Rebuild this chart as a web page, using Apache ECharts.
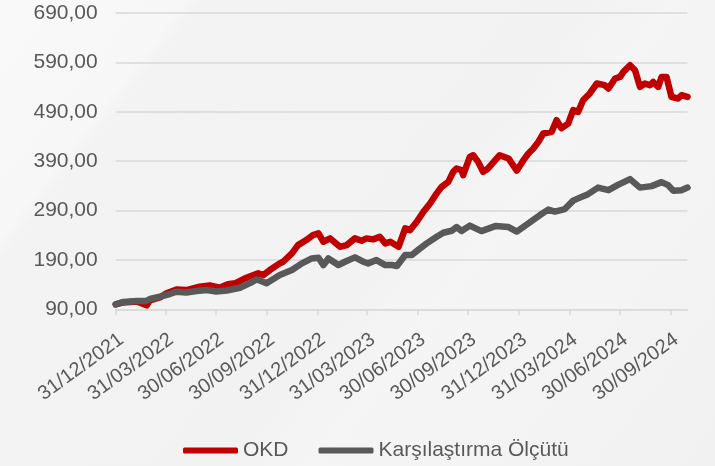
<!DOCTYPE html>
<html>
<head>
<meta charset="utf-8">
<script src="https://cdn.jsdelivr.net/npm/echarts@6/dist/echarts.min.js"></script>
<style>
html,body{margin:0;padding:0;width:715px;height:466px;overflow:hidden;
background:linear-gradient(128deg,#f9f9f9 0%,#f7f7f7 17%,#f3f3f4 19%,#f2f2f3 55%,#f5f5f6 62%,#f1f1f2 100%);}
#c{width:715px;height:466px;}
</style>
</head>
<body>
<div id="c"></div>
<script>
const seriesNames = ['OKD', 'Karşılaştırma Ölçütü'];

const okdDates = ['2021-12-31','2022-01-14','2022-02-07','2022-02-25','2022-03-03','2022-03-21','2022-04-02','2022-04-20','2022-05-08','2022-06-01','2022-06-19','2022-07-08','2022-07-22','2022-08-04','2022-08-22','2022-09-15','2022-09-24','2022-10-06','2022-10-24','2022-10-30','2022-11-15','2022-11-26','2022-12-11','2022-12-23','2023-01-02','2023-01-11','2023-01-23','2023-02-10','2023-02-22','2023-03-09','2023-03-21','2023-03-30','2023-04-11','2023-04-23','2023-05-03','2023-05-12','2023-05-27','2023-06-08','2023-06-17','2023-06-29','2023-07-11','2023-07-23','2023-08-04','2023-08-13','2023-08-25','2023-09-03','2023-09-09','2023-09-18','2023-09-21','2023-10-03','2023-10-09','2023-10-18','2023-10-27','2023-11-05','2023-11-18','2023-11-26','2023-12-12','2023-12-27','2024-01-08','2024-01-17','2024-01-26','2024-02-04','2024-02-13','2024-02-28','2024-03-08','2024-03-17','2024-03-29','2024-04-07','2024-04-16','2024-04-25','2024-05-07','2024-05-20','2024-06-03','2024-06-10','2024-06-22','2024-07-01','2024-07-07','2024-07-19','2024-07-28','2024-08-06','2024-08-15','2024-08-24','2024-08-30','2024-09-08','2024-09-14','2024-09-23','2024-10-02','2024-10-14','2024-10-20','2024-10-31'];
const okdValues = [100,104,106,98,108,114,122.4,130,129,135.7,138.5,134,140.6,142.6,152.7,162.8,159.4,169.5,183,186.3,203.3,220,230.2,240.3,243.7,226.8,233.6,216.6,220,233.6,228.8,233.6,231.6,236.9,223.5,226.8,216.6,253.9,250.4,267.2,287.4,304.4,324.7,338,348.1,368.4,375.2,371.8,361.7,398.7,402,388.6,368.4,375.2,392,402,395.5,370.8,392,405.6,415.7,429,446,449.3,473,456.8,465.9,493.2,489.7,513.4,527,547.2,543.8,537.1,557.3,560.6,570.7,584.2,574.1,540.3,547.2,543.8,550.4,540.3,560.6,560.6,520.1,516.9,523.5,520.1];

const benchDates = ['2021-12-31','2022-01-14','2022-02-07','2022-02-25','2022-03-03','2022-03-21','2022-04-08','2022-04-20','2022-05-08','2022-05-26','2022-06-14','2022-07-01','2022-07-20','2022-08-13','2022-08-31','2022-09-12','2022-09-30','2022-10-24','2022-11-15','2022-12-03','2022-12-21','2023-01-02','2023-01-11','2023-01-20','2023-02-07','2023-02-19','2023-03-09','2023-03-24','2023-04-02','2023-04-17','2023-05-03','2023-05-15','2023-05-24','2023-06-08','2023-06-20','2023-07-05','2023-07-17','2023-08-04','2023-08-16','2023-08-31','2023-09-09','2023-09-18','2023-10-03','2023-10-24','2023-11-18','2023-12-12','2023-12-27','2024-01-17','2024-02-07','2024-02-22','2024-03-05','2024-03-23','2024-04-07','2024-04-16','2024-05-04','2024-05-22','2024-06-10','2024-06-28','2024-07-19','2024-08-06','2024-08-27','2024-09-14','2024-09-26','2024-10-05','2024-10-20','2024-10-31'];
const benchValues = [100,105,107,107,110.8,115.5,121,125.6,124,127,129,126,128,133.7,143,150.7,142.6,159.4,169.5,183,193,194.4,179.6,193,179.6,186.3,195.2,186.3,183,189.7,179.6,179.6,177.6,199.8,199.8,213.4,223.5,236.9,245,249,256.5,248.4,259.5,248.4,258.5,256.5,247.4,264,280.8,291.9,287.8,292.9,310.1,314.6,323.2,336.4,331.3,342.5,353.6,336.4,339.4,347.5,341.5,330.3,331.3,336.4];

const xTickLabels = ['31/12/2021','31/03/2022','30/06/2022','30/09/2022','31/12/2022','31/03/2023','30/06/2023','30/09/2023','31/12/2023','31/03/2024','30/06/2024','30/09/2024'];
const xStart = '2021-12-31';
const xEnd = '2024-10-31';
const yTicks = [90,190,290,390,490,590,690];

function isoTs(s){ const p = s.split('-'); return Date.UTC(+p[0], +p[1]-1, +p[2]); }
function dmyTs(s){ const p = s.split('/'); return Date.UTC(+p[2], +p[1]-1, +p[0]); }

const xTickValues = xTickLabels.map(dmyTs);
const labelByTs = {};
xTickLabels.forEach((l, i) => { labelByTs[xTickValues[i]] = l; });

const okdData = okdDates.map((d, i) => [isoTs(d), okdValues[i]]);
const benchData = benchDates.map((d, i) => [isoTs(d), benchValues[i]]);

const FONT = '"Liberation Sans", Arial, sans-serif';
const chart = echarts.init(document.getElementById('c'), null, {renderer: 'canvas'});
chart.setOption({
  animation: false,
  backgroundColor: 'transparent',
  grid: {left: 115.7, right: 27.5, top: 13, bottom: 156.7, containLabel: false},
  legend: {
    left: 183, top: 440, padding: 0,
    itemWidth: 55, itemHeight: 6, itemGap: 30,
    icon: 'roundRect',
    textStyle: {fontFamily: FONT, fontSize: 21, color: '#595959'},
    data: seriesNames
  },
  xAxis: {
    type: 'value',
    min: isoTs(xStart), max: isoTs(xEnd),
    axisLine: {show: true, lineStyle: {color: '#d9d9d9', width: 1.5}},
    axisTick: {show: true, length: 6, customValues: xTickValues, lineStyle: {color: '#d9d9d9', width: 1.5}},
    axisLabel: {
      customValues: xTickValues,
      rotate: 36, margin: 20,
      align: 'right', verticalAlign: 'top',
      fontFamily: FONT, fontSize: 20, color: '#595959',
      formatter: v => labelByTs[v] || ''
    },
    splitLine: {show: false}
  },
  yAxis: {
    type: 'value',
    min: 90, max: 690,
    axisLine: {show: false},
    axisTick: {show: false, customValues: yTicks},
    axisLabel: {
      customValues: yTicks,
      margin: 18,
      fontFamily: FONT, fontSize: 21, color: '#595959',
      formatter: v => v.toFixed(2).replace('.', ',')
    },
    splitLine: {show: true, lineStyle: {color: '#d9d9d9', width: 1.5}}
  },
  series: [
    {
      name: seriesNames[0], type: 'line', data: okdData, showSymbol: false, symbol: 'none',
      lineStyle: {color: '#c00000', width: 6.5, cap: 'round', join: 'round'},
      itemStyle: {color: '#c00000'}, z: 2
    },
    {
      name: seriesNames[1], type: 'line', data: benchData, showSymbol: false, symbol: 'none',
      lineStyle: {color: '#595959', width: 6.5, cap: 'round', join: 'round'},
      itemStyle: {color: '#595959'}, z: 3
    }
  ]
});
</script>
</body>
</html>
